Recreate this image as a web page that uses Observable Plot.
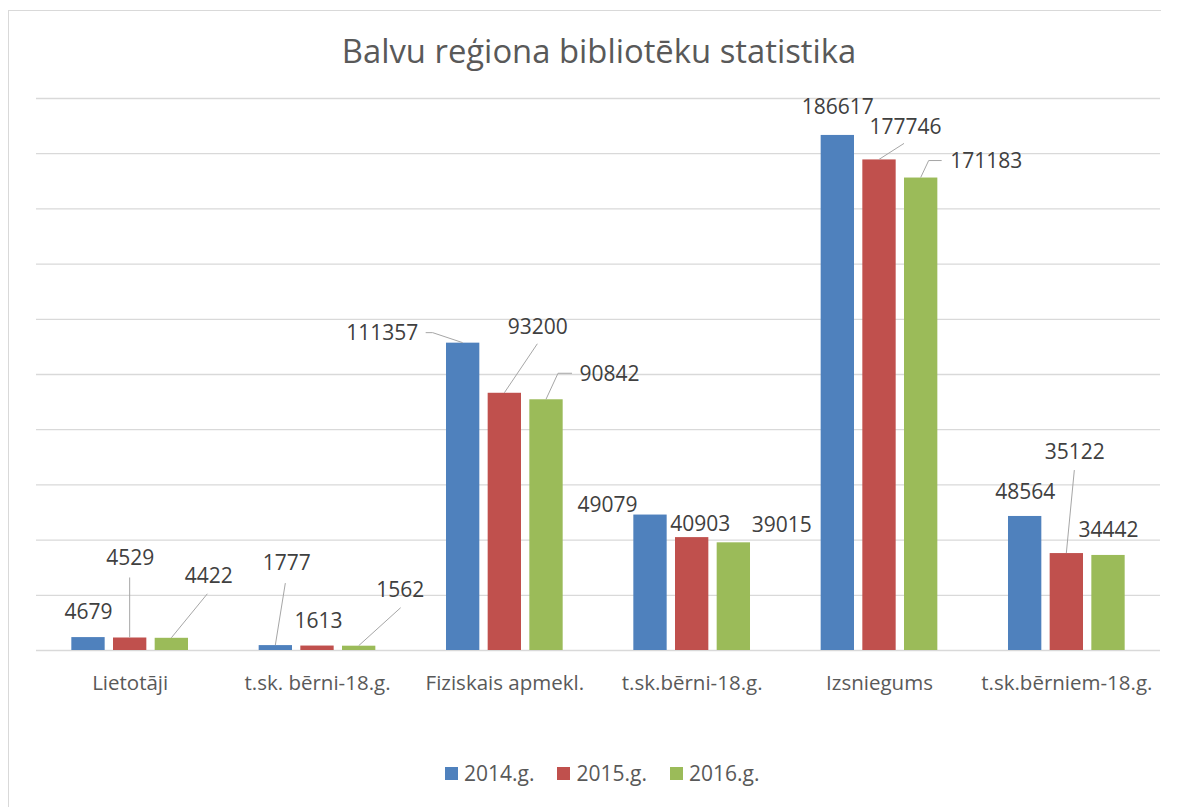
<!DOCTYPE html>
<html><head><meta charset="utf-8">
<script src="https://cdn.jsdelivr.net/npm/d3@7"></script>
<script src="https://cdn.jsdelivr.net/npm/@observablehq/plot@0.6"></script>
<style>
html,body{margin:0;padding:0;background:#fff;overflow:hidden;width:1179px;height:807px;}
body{font-family:"Open Sans",sans-serif;position:relative;}
#frame{position:absolute;left:8px;top:9.5px;width:1152px;height:820px;border-top:1.5px solid #d9d9d9;border-left:1.5px solid #d9d9d9;}
#title{position:absolute;left:599px;top:35px;transform:translateX(-50%);white-space:nowrap;font-size:32.8px;line-height:32.8px;color:#595959;}
#chart{position:absolute;left:0;top:80px;}
#legend{position:absolute;left:445px;top:763px;display:flex;align-items:center;font-size:21px;line-height:21px;color:#595959;}
#legend .item{display:flex;align-items:center;margin-right:23px;}
#legend .sw{width:13px;height:13px;margin-right:6px;}
</style></head><body>
<div id="frame"></div>
<div id="title">Balvu reģiona bibliotēku statistika</div>
<div id="chart"></div>
<div id="legend"></div>
<script>
// ---- data ----
const categories = ["Lietotāji", "t.sk. bērni-18.g.", "Fiziskais apmekl.", "t.sk.bērni-18.g.", "Izsniegums", "t.sk.bērniem-18.g."];
const years = ["2014.g.", "2015.g.", "2016.g."];
const values2014 = [4679, 1777, 111357, 49079, 186617, 48564];
const values2015 = [4529, 1613, 93200, 40903, 177746, 35122];
const values2016 = [4422, 1562, 90842, 39015, 171183, 34442];
const gridTicks = [0, 20000, 40000, 60000, 80000, 100000, 120000, 140000, 160000, 180000, 200000];

// ---- styling ----
const colors = ["#4F81BD", "#C0504D", "#9BBB59"];
const barShift = [-41.67, 0, 41.67];
// label placement offsets (px) relative to bar top centre
const labelOffsets = [
  [[0,-25],[11,-82],[-81,-10],[-43,-10],[0,-28],[0,-24]],
  [[0,-80],[1,-25],[33,-66],[8,-13],[26,-33],[8,-101]],
  [[37,-62],[41,-56],[63,-26],[48,-18],[65,-17],[0,-25]]
];
// leader-line vertices (px) relative to bar top centre
const leaderLines = [
  [null,[[10,-62]],[[-30,-10],[-37,-10]],null,null,null],
  [[[0,-60]],null,[[33,-49]],null,[[25,-16]],[[8,-83]]],
  [[[36,-44]],[[42,-38]],[[12,-26],[26,-26]],null,[[8,-17],[21,-17]],null]
];

const series = [values2014, values2015, values2016];
const rows = [];
series.forEach((vals, i) => vals.forEach((v, j) => rows.push({
  category: categories[j], year: years[i], yi: i, value: v,
  ldx: labelOffsets[i][j][0], ldy: labelOffsets[i][j][1], leader: leaderLines[i][j]
})));

function leaderMark(index, scales) {
  const ns = "http://www.w3.org/2000/svg";
  const g = document.createElementNS(ns, "g");
  const x = scales.x, y = scales.y;
  const bw = x.bandwidth ? x.bandwidth() : 0;
  rows.forEach(r => {
    if (!r.leader) return;
    const x0 = x(r.category) + bw / 2 + barShift[r.yi];
    const y0 = y(r.value);
    const d = "M" + x0 + "," + y0 + r.leader.map(([dx, dy]) => "L" + (x0 + dx) + "," + (y0 + dy)).join("");
    const p = document.createElementNS(ns, "path");
    p.setAttribute("d", d);
    p.setAttribute("fill", "none");
    p.setAttribute("stroke", "#a6a6a6");
    p.setAttribute("stroke-width", "1");
    g.appendChild(p);
  });
  return g;
}

const marks = [Plot.ruleY(gridTicks, {stroke: "#d9d9d9", strokeWidth: 1.3})];
years.forEach((yr, i) => {
  marks.push(Plot.barY(rows.filter(r => r.yi === i), {
    x: "category", y: "value", fill: colors[i], dx: barShift[i], insetLeft: 77, insetRight: 77
  }));
});
marks.push(leaderMark);
rows.forEach(r => {
  marks.push(Plot.text([r], {
    x: "category", y: "value", text: d => String(d.value),
    dx: barShift[r.yi] + r.ldx, dy: r.ldy, fontSize: 21, fill: "#404040"
  }));
});

const chart = Plot.plot({
  width: 1179, height: 620,
  marginLeft: 36, marginRight: 19, marginTop: 18, marginBottom: 50,
  style: {fontFamily: "Open Sans", fontSize: "20.5px", color: "#595959", background: "transparent"},
  x: {domain: categories, padding: 0, round: false, tickSize: 0, tickPadding: 25, label: null},
  y: {domain: [0, 200000], axis: null},
  marks
});
document.getElementById("chart").appendChild(chart);

const legend = document.getElementById("legend");
years.forEach((yr, i) => {
  const it = document.createElement("div"); it.className = "item";
  const sw = document.createElement("div"); sw.className = "sw"; sw.style.background = colors[i];
  const t = document.createElement("span"); t.textContent = yr;
  it.appendChild(sw); it.appendChild(t); legend.appendChild(it);
});
</script>
</body></html>
